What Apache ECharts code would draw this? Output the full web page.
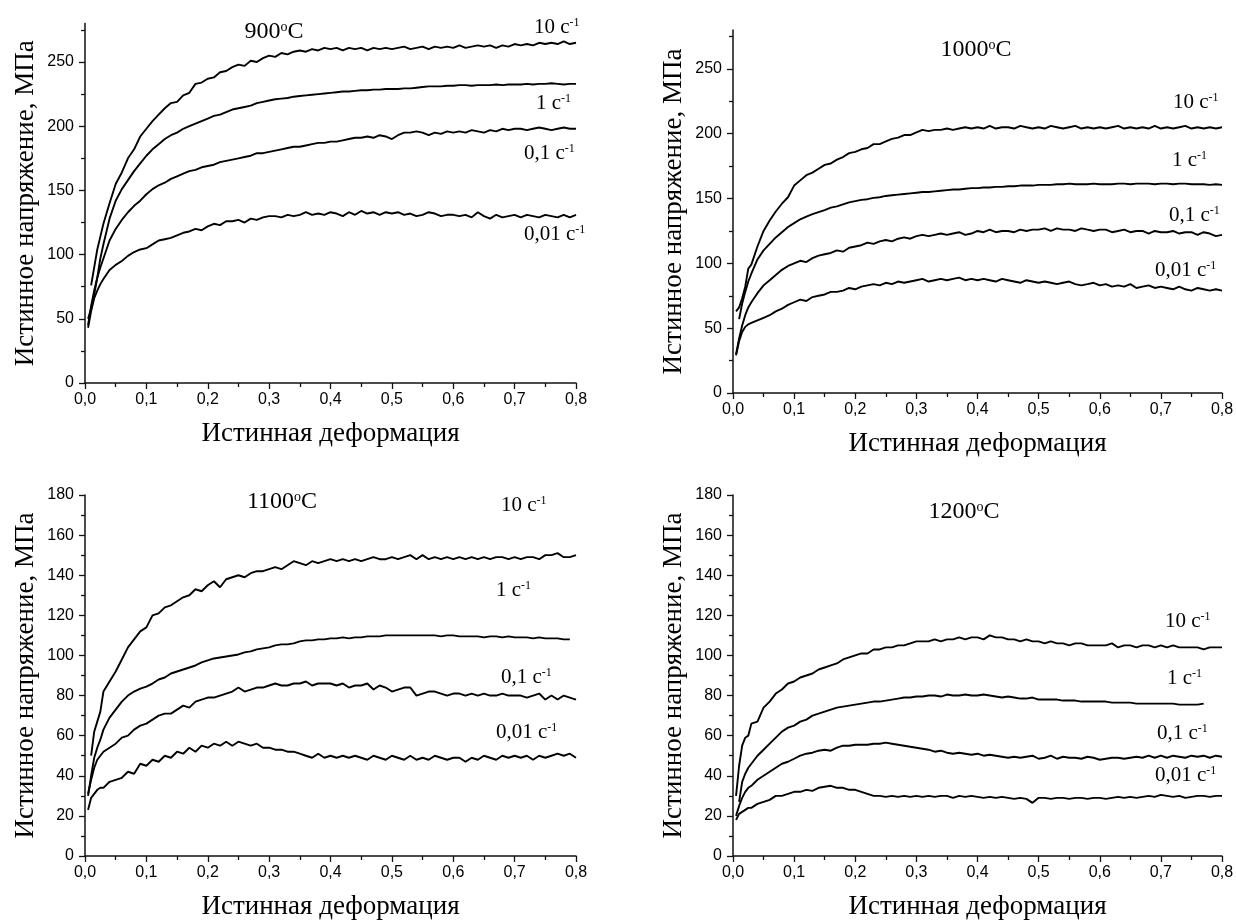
<!DOCTYPE html>
<html>
<head>
<meta charset="utf-8">
<script src="https://cdn.jsdelivr.net/npm/echarts@6/dist/echarts.min.js"></script>
<style>
  html, body { margin: 0; padding: 0; background: #fff; }
  #chart { width: 1236px; height: 921px; }
</style>
</head>
<body>
<div id="chart"></div>
<script>
// True strain grid shared by all flow curves
const strain = [
  0.005, 0.01, 0.015, 0.02, 0.025, 0.03,
  0.04, 0.05, 0.06, 0.07, 0.08, 0.09, 0.10,
  0.11, 0.12, 0.13, 0.14, 0.15, 0.16, 0.17, 0.18, 0.19, 0.20,
  0.21, 0.22, 0.23, 0.24, 0.25, 0.26, 0.27, 0.28, 0.29, 0.30,
  0.31, 0.32, 0.33, 0.34, 0.35, 0.36, 0.37, 0.38, 0.39, 0.40,
  0.41, 0.42, 0.43, 0.44, 0.45, 0.46, 0.47, 0.48, 0.49, 0.50,
  0.51, 0.52, 0.53, 0.54, 0.55, 0.56, 0.57, 0.58, 0.59, 0.60,
  0.61, 0.62, 0.63, 0.64, 0.65, 0.66, 0.67, 0.68, 0.69, 0.70,
  0.71, 0.72, 0.73, 0.74, 0.75, 0.76, 0.77, 0.78, 0.79, 0.80
];

const temperatures = ['900', '1000', '1100', '1200'];
const rateLabels = ['10', '1', '0,1', '0,01'];

// True stress, MPa — 900 °C
const s900_10 = [
  null, 76, 90, 104, 114, 124,
  140, 155, 164, 175, 182, 192, 198,
  204, 209, 214, 218, 219, 224, 226, 233, 234, 237,
  238, 242, 243, 246, 248, 247, 251, 250, 253, 255,
  254, 257, 256, 258, 259, 258, 260, 259, 261, 260,
  261, 259, 261, 260, 261, 259, 261, 260, 261, 260,
  261, 262, 260, 261, 262, 260, 262, 261, 262, 261,
  263, 261, 262, 263, 262, 263, 261, 263, 262, 264,
  263, 264, 263, 265, 264, 265, 264, 266, 264, 265
];
const s900_1 = [
  50, 58, 69, 82, 97, 108,
  128, 142, 151, 158, 165, 171, 177,
  182, 186, 190, 193, 195, 198, 200, 202, 204, 206,
  208, 209, 211, 213, 214, 215, 216, 218, 219, 220,
  221, 221.5, 222, 223, 223.5, 224, 224.5, 225, 225.5, 226,
  226.5, 227, 227, 227.5, 228, 228, 228.5, 228.5, 229, 229,
  229, 229.5, 229.5, 230, 230.5, 231, 231, 231, 231.5, 231.5,
  232, 232, 231.5, 232, 232, 232, 232.5, 232, 232.5, 232.5,
  232.5, 233, 232.5, 233, 233, 233.5, 233, 232.5, 233, 233
];
const s900_01 = [
  45, 60, 72, 82, 90, 97,
  111, 120, 127, 133, 138, 142, 147,
  151, 154, 156, 159, 161, 163, 165, 166, 168, 169,
  170, 172, 173, 174, 175, 176, 177, 179, 179, 180,
  181, 182, 183, 184, 184, 185, 186, 187, 187, 188,
  188, 189, 190, 191, 191, 192, 191, 193, 192, 190,
  193, 195, 195, 196, 195, 193, 195, 194, 196, 195,
  196, 195, 197, 196, 195, 197, 196, 198, 197, 198,
  198, 197, 198, 199, 198, 197, 198, 199, 198, 198
];
const s900_001 = [
  43, 56, 66, 72, 77, 81,
  88, 92, 95, 99, 102, 104, 105,
  108, 111, 112, 113, 115, 117, 118, 120, 119, 122,
  124, 123, 126, 126, 127, 125, 128, 127, 129, 130,
  130, 129, 131, 130, 131, 133, 131, 132, 131, 133,
  132, 130, 133, 131, 134, 132, 133, 131, 133, 132,
  133, 131, 132, 130, 131, 133, 132, 130, 131, 131,
  130, 131, 129, 133, 130, 128, 131, 129, 130, 131,
  129, 131, 130, 129, 131, 130, 129, 131, 129, 131
];

// True stress, MPa — 1000 °C
const s1000_10 = [
  63, 66, 73, 82, 96, 99,
  113, 125, 133, 140, 146, 151, 160,
  164, 168, 170, 173, 176, 177, 180, 182, 185, 186,
  188, 189, 192, 192, 194, 196, 197, 199, 199, 201,
  203, 202, 203, 203, 204, 203, 204, 205, 204, 205,
  204, 206, 204, 205, 205, 204, 206, 205, 204, 205,
  204, 206, 205, 204, 205, 206, 204, 205, 204, 205,
  204, 205, 206, 204, 205, 204, 205, 204, 206, 204,
  205, 204, 205, 206, 204, 205, 204, 205, 204, 205
];
const s1000_1 = [
  null, 57, 69, 78, 86, 92,
  103, 110, 115, 120, 124, 128, 131,
  134, 136, 138, 139.5, 141, 143, 144, 145.5, 147, 148,
  149, 149.5, 150.5, 151, 152, 152.5, 153, 153.5, 154, 154.5,
  155, 155, 155.5, 156, 156.5, 157, 157, 157.5, 158, 158,
  158.5, 158.5, 159, 159, 159.5, 159.5, 160, 160, 160, 160.5,
  160.5, 160.5, 161, 161, 161.5, 161, 161, 161, 161.5, 161,
  161, 161, 161.5, 161.5, 161, 161.5, 161.5, 161.5, 161, 161.5,
  161.5, 161, 161.5, 161.5, 161, 161, 161, 160.5, 161, 160.5
];
const s1000_01 = [
  30, 42, 52, 60, 66, 70,
  77, 83, 87, 91, 95, 98, 100,
  102, 101, 104, 106, 107, 108, 110, 109, 112, 113,
  114, 116, 115, 117, 118, 117, 119, 120, 119, 121,
  122, 121, 122, 123, 122, 123, 124, 122, 123, 125,
  124, 126, 124, 125, 125, 124, 126, 125, 126, 126,
  127, 125, 127, 126, 126, 125, 127, 126, 125, 126,
  126, 124, 125, 126, 124, 125, 125, 123, 125, 124,
  124, 125, 123, 124, 124, 122, 124, 123, 121, 122
];
const s1000_001 = [
  29, 40, 47, 51, 53, 54,
  56, 58, 60, 63, 65, 68, 70,
  72, 71, 74, 75, 76, 78, 78, 79, 81, 80,
  82, 83, 84, 83, 85, 84, 86, 85, 86, 87,
  88, 86, 87, 88, 87, 88, 89, 87, 88, 87,
  88, 87, 86, 88, 87, 86, 85, 87, 86, 85,
  86, 85, 84, 85, 86, 84, 83, 84, 85, 83,
  84, 82, 83, 82, 84, 81, 82, 83, 81, 82,
  81, 80, 82, 80, 79, 81, 80, 79, 80, 79
];

// True stress, MPa — 1100 °C
const s1100_10 = [
  null, 50, 62, 67, 72, 82,
  87, 92, 98, 104, 108, 112, 114,
  120, 121, 124, 125, 127, 129, 130, 133, 132, 135,
  137, 134, 138, 139, 140, 139, 141, 142, 142, 143,
  144, 143, 145, 147, 146, 145, 147, 146, 147, 148,
  147, 148, 147, 148, 147, 148, 149, 148, 148, 149,
  148, 149, 150, 148, 150, 148, 149, 148, 149, 148,
  149, 148, 149, 148, 149, 148, 149, 149, 148, 149,
  148, 149, 149, 148, 150, 150, 151, 149, 149, 150
];
const s1100_1 = [
  30, 40, 49, 54, 58, 63,
  69, 73, 77, 80, 82, 83.5, 84.5,
  86, 88, 89, 91, 92, 93, 94, 95, 96.5, 97.5,
  98.5, 99, 99.5, 100, 100.5, 101.5, 102, 103, 103.5, 104,
  105, 105.5, 105.5, 106, 107, 107.5, 107.5, 108, 108, 108.5,
  108.5, 109, 108.5, 109, 109, 109.5, 109.5, 109.5, 110, 110,
  110, 110, 110, 110, 110, 110, 110, 109.5, 110, 110,
  109.5, 109.5, 109.5, 109.5, 109, 109.5, 109.5, 109, 109.5, 109,
  109, 109, 108.5, 109, 108.5, 108.5, 108.5, 108, 108, null
];
const s1100_01 = [
  31, 38, 44, 48, 50, 52,
  54, 56, 59, 60, 63, 65, 66,
  68, 70, 71, 71, 73, 75, 74, 77, 78, 79,
  79, 80, 81, 82, 84, 82, 83, 84, 84, 85,
  86, 85, 85, 86, 86, 87, 85, 86, 86, 86,
  85, 86, 84, 85, 85, 86, 83, 85, 84, 82,
  83, 84, 84, 80, 81, 82, 82, 81, 80, 81,
  81, 80, 81, 80, 81, 80, 80, 81, 80, 80,
  80, 79, 80, 81, 78, 80, 78, 80, 79, 78
];
const s1100_001 = [
  23, 29, 31, 33, 34, 34,
  37, 38, 39, 42, 41, 46, 45,
  48, 47, 50, 49, 52, 51, 54, 52, 55, 54,
  56, 55, 57, 55, 57, 56, 55, 56, 54, 54,
  53, 53, 52, 52, 51, 50, 49, 51, 49, 50,
  49, 50, 49, 50, 49, 48, 50, 49, 48, 50,
  49, 48, 50, 48, 49, 48, 50, 49, 48, 49,
  49, 47, 49, 48, 50, 49, 48, 50, 49, 50,
  49, 50, 48, 50, 49, 50, 51, 50, 51, 49
];

// True stress, MPa — 1200 °C
const s1200_10 = [
  30, 45, 55, 59, 60, 66,
  67, 74, 77, 81, 83, 86, 87,
  89, 90, 91, 93, 94, 95, 96, 98, 99, 100,
  101, 101, 103, 103, 104, 104, 105, 105, 106, 107,
  107, 107, 108, 107, 108, 108, 109, 108, 109, 109,
  108, 110, 109, 109, 108, 108, 107, 108, 107, 107,
  106, 107, 106, 106, 105, 106, 106, 105, 105, 105,
  105, 106, 104, 105, 105, 104, 105, 105, 104, 105,
  104, 105, 104, 104, 104, 104, 103, 104, 104, 104
];
const s1200_1 = [
  null, 27, 37, 41, 44, 46,
  50, 53, 56, 59, 62, 64, 65,
  67, 68, 70, 71, 72, 73, 74, 74.5, 75, 75.5,
  76, 76.5, 77, 77, 77.5, 78, 78.5, 79, 79, 79.5,
  79.5, 80, 80, 79.5, 80.5, 80, 80, 80.5, 80, 80,
  80.5, 80, 79.5, 79, 79.5, 79, 78.5, 78.5, 79, 78,
  78, 78, 78, 77.5, 77.5, 77.5, 77, 77, 77, 77,
  77, 76.5, 76.5, 76.5, 76.5, 76, 76, 76, 76, 76,
  76, 76, 75.5, 75.5, 75.5, 75.5, 76, null, null, null
];
const s1200_01 = [
  20, 25, 29, 32, 34, 35,
  38, 40, 42, 44, 46, 47, 48.5,
  50, 51, 51.5, 52.5, 53, 52.5, 54, 55, 55, 55.5,
  55.5, 55.5, 56, 56, 56.5, 56, 55.5, 55, 54.5, 54,
  53.5, 53, 52, 52.5, 51.5, 51, 51.5, 51, 50.5, 51,
  50, 50.5, 50, 49.5, 49, 49.5, 49, 49.5, 50, 48.5,
  49, 50, 48.5, 49.5, 49, 49, 48.5, 49.5, 49, 48,
  48.5, 49, 49, 48.5, 49, 49.5, 49, 50, 49, 50,
  49, 50, 49.5, 49, 50, 49.5, 50, 49, 50, 49.5
];
const s1200_001 = [
  18, 21, 22, 23, 24, 24,
  26, 27, 28, 30, 30, 31, 32,
  32, 33, 32.5, 34, 34.5, 35, 34, 34, 33, 33,
  32, 31, 30, 30, 29.5, 30, 29.5, 30, 29.5, 30,
  29.5, 30, 29.5, 30, 30, 29, 30, 29.5, 30, 29.5,
  29, 29.5, 29, 29.5, 29, 28.5, 29, 28.5, 26.5, 29,
  29, 28.5, 29, 29, 28.5, 29, 29, 28.5, 29, 29,
  28.5, 29, 29.5, 29, 29.5, 29, 29.5, 30, 29.5, 30.5,
  30, 29.5, 30, 29, 29.5, 30, 30, 29.5, 30, 30
];

const curves = [
  [s900_10, s900_1, s900_01, s900_001],
  [s1000_10, s1000_1, s1000_01, s1000_001],
  [s1100_10, s1100_1, s1100_01, s1100_001],
  [s1200_10, s1200_1, s1200_01, s1200_001]
];

// Panel placement (pixels) and annotation anchors
const panelBoxes = [
  { left: 85,  top: 23.5, width: 491, height: 359.5, yMax: 280, yStep: 50,
    title: [274, 32],  labels: [[534, 27], [536, 103], [524, 153], [524, 234]] },
  { left: 733, top: 30,   width: 489, height: 363,   yMax: 280, yStep: 50,
    title: [976, 50],  labels: [[1173, 102], [1172, 160], [1169, 215], [1155, 270]] },
  { left: 85,  top: 495,  width: 491, height: 361,   yMax: 180, yStep: 20,
    title: [282, 502], labels: [[501, 505], [496, 590], [501, 677], [496, 732]] },
  { left: 733, top: 495,  width: 489, height: 361,   yMax: 180, yStep: 20,
    title: [964, 512], labels: [[1165, 621], [1167, 678], [1157, 733], [1155, 775]] }
];

const SERIF = '"Liberation Serif", "Times New Roman", serif';
const SANS = '"Liberation Sans", Arial, sans-serif';
const INK = '#000';

function range(a, b, step) {
  const out = [];
  for (let v = a; v <= b + 1e-9; v += step) out.push(v);
  return out;
}

const grid = [], xAxis = [], yAxis = [], series = [], graphic = [];

panelBoxes.forEach((p, i) => {
  grid.push({ left: p.left, top: p.top, width: p.width, height: p.height,
              containLabel: false, outerBoundsMode: 'none' });
  xAxis.push({
    type: 'value', gridIndex: i, min: 0, max: 0.8, interval: 0.1,
    name: 'Истинная деформация', nameLocation: 'middle', nameGap: 37,
    nameTextStyle: { fontFamily: SERIF, fontSize: 27, color: INK },
    axisLine: { show: true, onZero: false, lineStyle: { color: '#111', width: 1.5 } },
    axisTick: { show: true, length: 6, lineStyle: { color: '#111', width: 1.3 } },
    minorTick: { show: true, splitNumber: 2, length: 4, lineStyle: { color: '#111', width: 1.3 } },
    axisLabel: { show: true, margin: 9, fontFamily: SANS, fontSize: 16, color: INK,
                 formatter: v => v.toFixed(1).replace('.', ',') },
    splitLine: { show: false }
  });
  const majors = range(0, p.yMax - (p.yMax % p.yStep === 0 ? 0 : p.yMax % p.yStep), p.yStep);
  const yMain = {
    type: 'value', gridIndex: i, min: 0, max: p.yMax, interval: p.yStep,
    name: 'Истинное напряжение, МПа', nameLocation: 'middle', nameGap: 46,
    nameTextStyle: { fontFamily: SERIF, fontSize: 27, color: INK },
    axisLine: { show: true, onZero: false, lineStyle: { color: '#111', width: 1.5 } },
    axisTick: { show: true, length: 6, lineStyle: { color: '#111', width: 1.3 } },
    axisLabel: { show: true, margin: 11, fontFamily: SANS, fontSize: 16, color: INK },
    splitLine: { show: false }
  };
  if (p.yMax % p.yStep === 0) {
    yMain.minorTick = { show: true, splitNumber: 2, length: 4, lineStyle: { color: '#111', width: 1.3 } };
  } else {
    yMain.axisTick.customValues = majors;
    yMain.axisLabel.customValues = majors;
    yMain.minorTick = { show: false };
  }
  yAxis.push(yMain);

  curves[i].forEach((vals) => {
    const data = [];
    vals.forEach((v, j) => { if (v !== null) data.push([strain[j], v]); });
    series.push({
      type: 'line', xAxisIndex: i, yAxisIndex: i, data,
      showSymbol: false, symbol: 'none', smooth: false,
      lineStyle: { color: '#000', width: 1.9 }, silent: true
    });
  });

  // Temperature caption
  graphic.push({
    type: 'text', x: p.title[0], y: p.title[1], silent: true,
    style: {
      text: '{n|' + temperatures[i] + '}{s|o}{n|C}',
      align: 'center', verticalAlign: 'middle',
      rich: {
        n: { fontFamily: SERIF, fontSize: 24, fill: INK },
        s: { fontFamily: SERIF, fontSize: 14, fill: INK, verticalAlign: 'top' }
      }
    }
  });
  // Strain-rate captions
  rateLabels.forEach((r, k) => {
    graphic.push({
      type: 'text', x: p.labels[k][0], y: p.labels[k][1], silent: true,
      style: {
        text: '{n|' + r + ' c}{s|-1}',
        align: 'left', verticalAlign: 'middle',
        rich: {
          n: { fontFamily: SERIF, fontSize: 21, fill: INK },
          s: { fontFamily: SERIF, fontSize: 12, fill: INK, verticalAlign: 'top' }
        }
      }
    });
  });
});

// Minor ticks for the 0–280 stress axes (every 25 MPa between labelled ticks)
panelBoxes.forEach((p) => {
  if (p.yMax % p.yStep === 0) return;
  const gi = grid.length;
  grid.push({ left: p.left, top: p.top, width: p.width, height: p.height,
              containLabel: false, outerBoundsMode: 'none' });
  xAxis.push({ type: 'value', gridIndex: gi, min: 0, max: 0.8, show: false });
  yAxis.push({
    type: 'value', gridIndex: gi, min: 0, max: p.yMax,
    axisLine: { show: false },
    axisLabel: { show: false },
    splitLine: { show: false },
    axisTick: { show: true, length: 4, customValues: range(p.yStep / 2, p.yMax, p.yStep),
                lineStyle: { color: '#111', width: 1.3 } }
  });
});

const chart = echarts.init(document.getElementById('chart'), null, { renderer: 'canvas' });
chart.setOption({
  animation: false,
  backgroundColor: '#fff',
  grid, xAxis, yAxis, series, graphic
});
</script>
</body>
</html>
